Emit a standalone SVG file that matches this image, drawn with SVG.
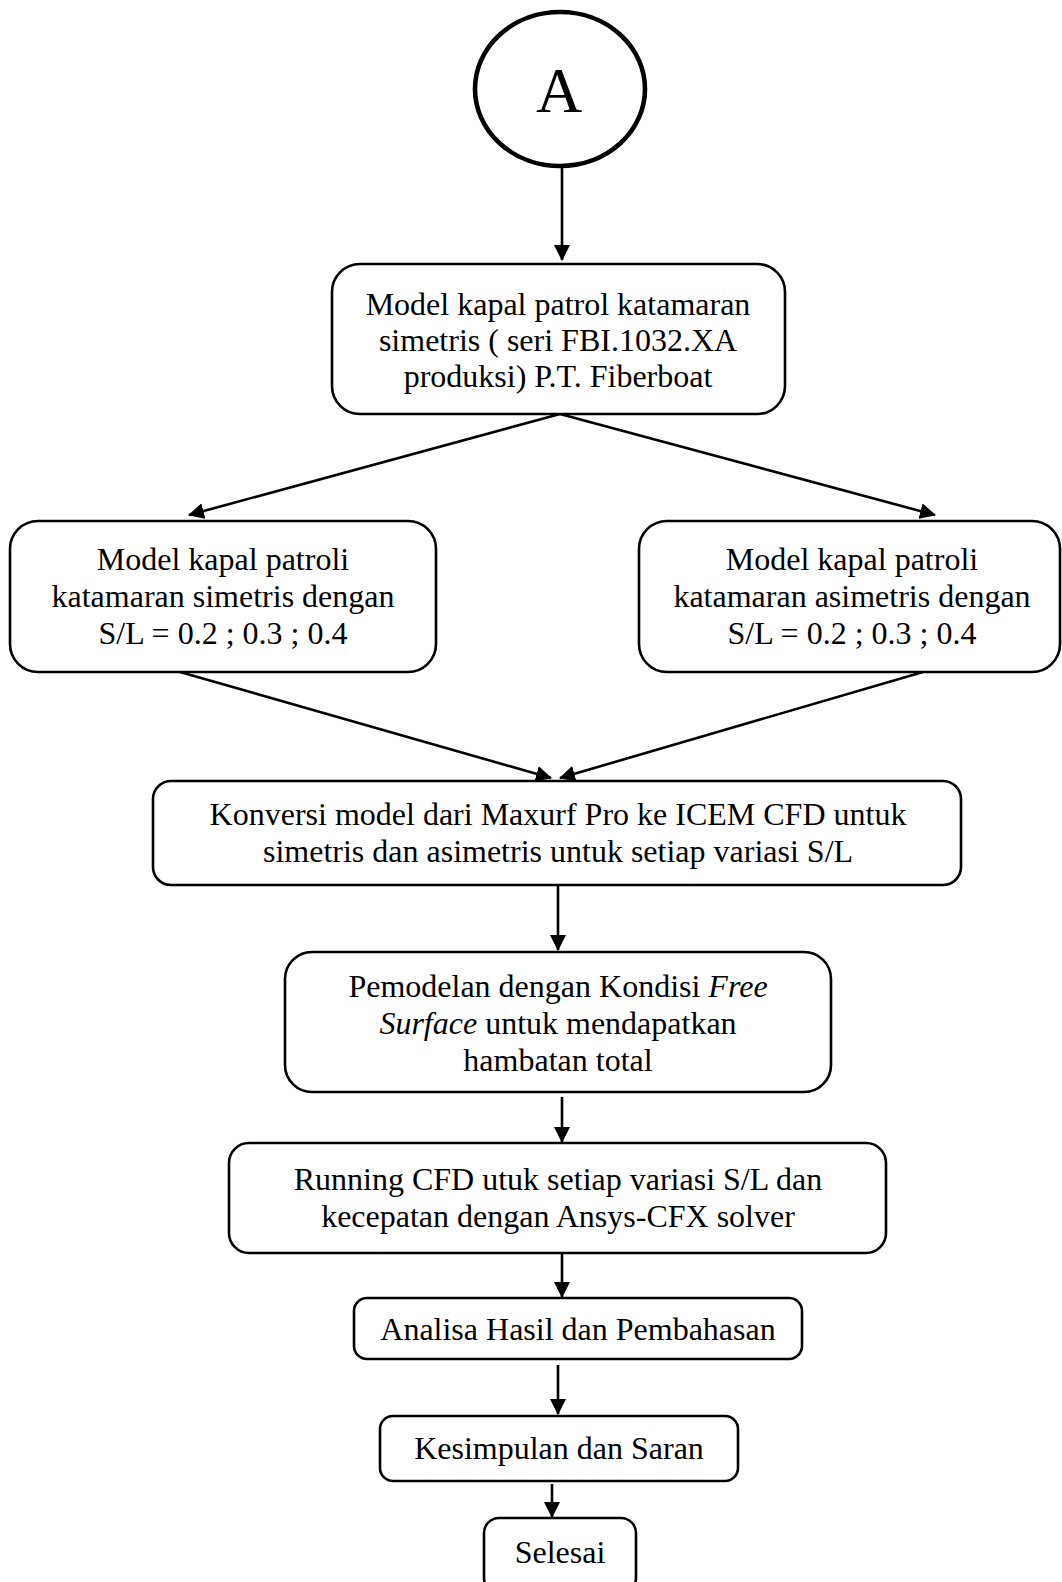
<svg xmlns="http://www.w3.org/2000/svg" width="1062" height="1582" viewBox="0 0 1062 1582">
<style>
  .box { fill: #ffffff; stroke: #000000; stroke-width: 2.6; }
  .lbl { font-family: "Liberation Serif", "Times New Roman", serif; font-size: 32px; fill: #000000; text-anchor: middle; }
  .conn { stroke: #000000; stroke-width: 2.6; fill: none; marker-end: url(#arrow); }
  .it { font-style: italic; }
</style>
<defs>
  <marker id="arrow" markerUnits="userSpaceOnUse" markerWidth="16" markerHeight="16" refX="15" refY="8" orient="auto" viewBox="0 0 16 16">
    <path d="M0,0 L16,8 L0,16 z" fill="#000000"/>
  </marker>
</defs>
<rect width="1062" height="1582" fill="#ffffff"/>

<g id="connectors">
  <line class="conn" x1="562" y1="168" x2="562" y2="260"/>
  <line class="conn" x1="560" y1="414" x2="189" y2="515"/>
  <line class="conn" x1="560" y1="414" x2="935" y2="515"/>
  <line class="conn" x1="180" y1="672" x2="551" y2="778"/>
  <line class="conn" x1="923" y1="672" x2="560" y2="778"/>
  <line class="conn" x1="558" y1="886" x2="558" y2="950"/>
  <line class="conn" x1="562" y1="1097" x2="562" y2="1142"/>
  <line class="conn" x1="562" y1="1254" x2="562" y2="1297"/>
  <line class="conn" x1="558" y1="1365" x2="558" y2="1414"/>
  <line class="conn" x1="552" y1="1484" x2="552" y2="1517"/>
</g>

<g id="node-a">
  <ellipse cx="560" cy="89" rx="85" ry="77" fill="#ffffff" stroke="#000000" stroke-width="4.6"/>
  <text class="lbl" x="559" y="112" style="font-size:64px">A</text>
</g>

<g id="node-model">
  <rect class="box" x="332" y="264" width="453" height="150" rx="28"/>
  <text class="lbl" x="558" y="315">Model kapal patrol katamaran</text>
  <text class="lbl" x="558" y="351">simetris ( seri FBI.1032.XA</text>
  <text class="lbl" x="558" y="387">produksi) P.T. Fiberboat</text>
</g>

<g id="node-simetris">
  <rect class="box" x="10" y="521" width="426" height="151" rx="28"/>
  <text class="lbl" x="223" y="570">Model kapal patroli</text>
  <text class="lbl" x="223" y="607">katamaran simetris dengan</text>
  <text class="lbl" x="223" y="644">S/L = 0.2 ; 0.3 ; 0.4</text>
</g>

<g id="node-asimetris">
  <rect class="box" x="639" y="521" width="421" height="151" rx="28"/>
  <text class="lbl" x="852" y="570">Model kapal patroli</text>
  <text class="lbl" x="852" y="607">katamaran asimetris dengan</text>
  <text class="lbl" x="852" y="644">S/L = 0.2 ; 0.3 ; 0.4</text>
</g>

<g id="node-konversi">
  <rect class="box" x="153" y="781" width="808" height="104" rx="18"/>
  <text class="lbl" x="558" y="825">Konversi model dari Maxurf Pro ke ICEM CFD untuk</text>
  <text class="lbl" x="558" y="862">simetris dan asimetris untuk setiap variasi S/L</text>
</g>

<g id="node-pemodelan">
  <rect class="box" x="285" y="952" width="546" height="140" rx="27"/>
  <text class="lbl" x="558" y="997">Pemodelan dengan Kondisi <tspan class="it">Free</tspan></text>
  <text class="lbl" x="558" y="1034"><tspan class="it">Surface</tspan> untuk mendapatkan</text>
  <text class="lbl" x="558" y="1071">hambatan total</text>
</g>

<g id="node-running">
  <rect class="box" x="229" y="1143" width="657" height="110" rx="20"/>
  <text class="lbl" x="558" y="1190">Running CFD utuk setiap variasi S/L dan</text>
  <text class="lbl" x="558" y="1227">kecepatan dengan Ansys-CFX solver</text>
</g>

<g id="node-analisa">
  <rect class="box" x="354" y="1298" width="448" height="61" rx="13"/>
  <text class="lbl" x="578" y="1340">Analisa Hasil dan Pembahasan</text>
</g>

<g id="node-kesimpulan">
  <rect class="box" x="380" y="1416" width="358" height="65" rx="13"/>
  <text class="lbl" x="559" y="1459">Kesimpulan dan Saran</text>
</g>

<g id="node-selesai">
  <rect class="box" x="484" y="1518" width="152" height="75" rx="15"/>
  <text class="lbl" x="560" y="1563">Selesai</text>
</g>
</svg>
